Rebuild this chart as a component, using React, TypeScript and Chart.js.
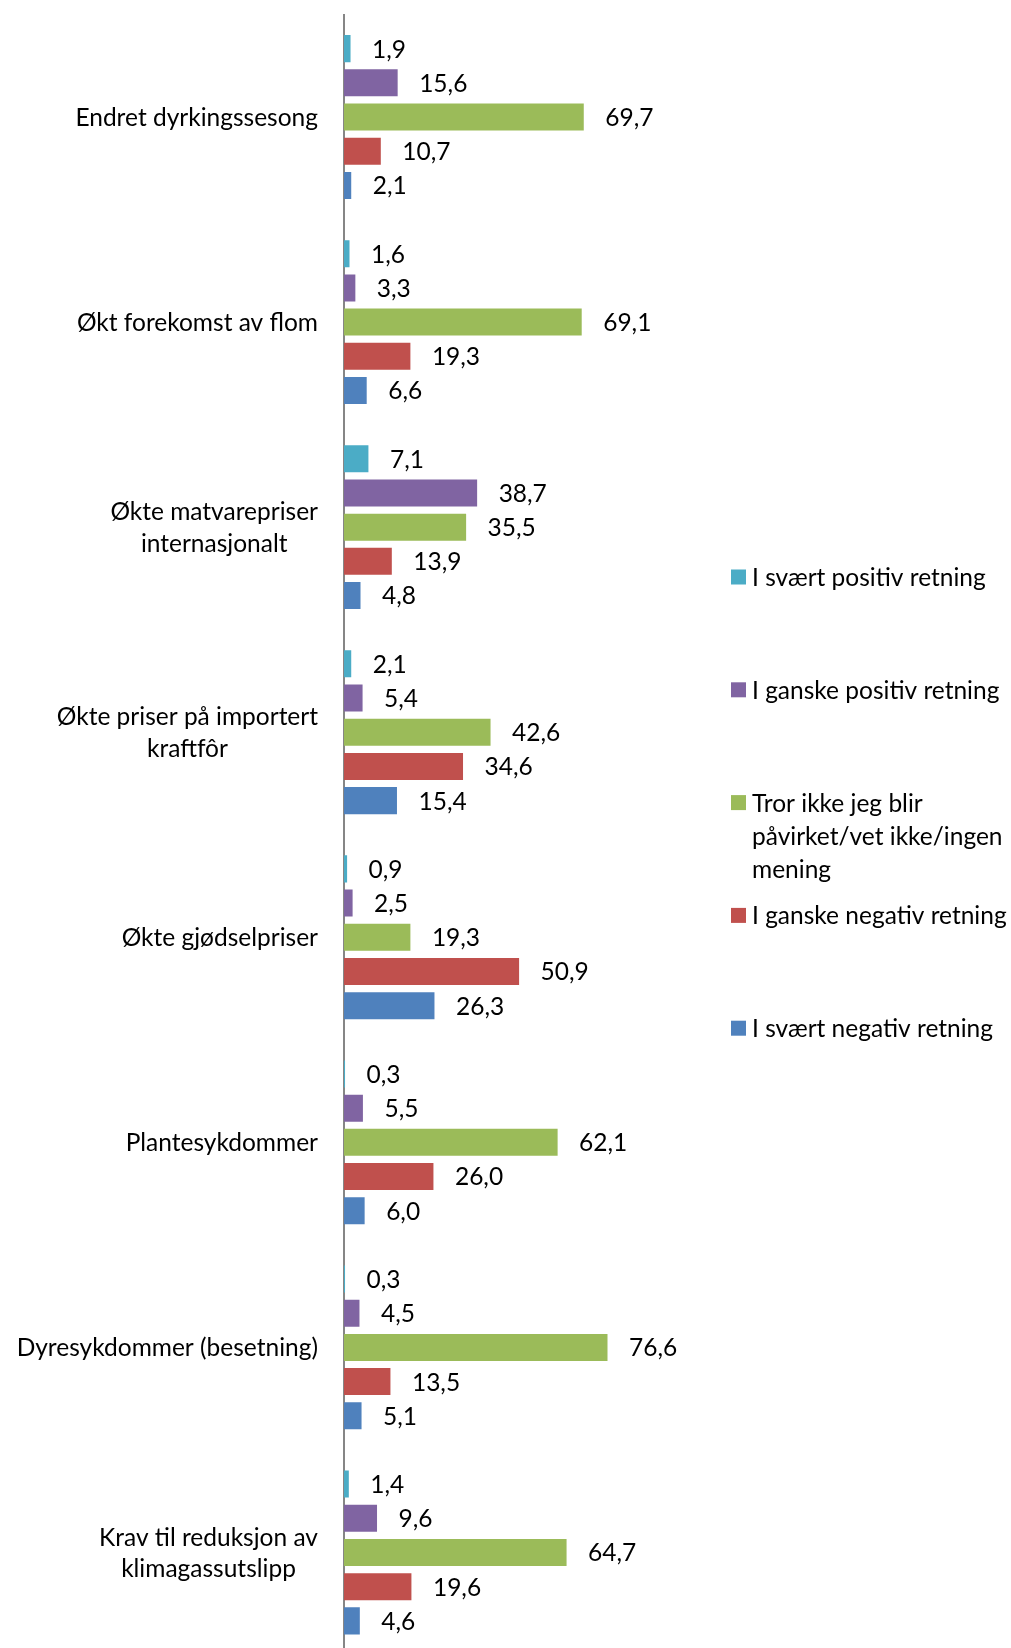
import React, { useEffect, useRef } from "react";
import { Chart, registerables } from "chart.js";

Chart.register(...registerables);

const categories: string[][] = [
  ["Endret dyrkingssesong"],
  ["Økt forekomst av flom"],
  ["Økte matvarepriser", "internasjonalt"],
  ["Økte priser på importert", "kraftfôr"],
  ["Økte gjødselpriser"],
  ["Plantesykdommer"],
  ["Dyresykdommer (besetning)"],
  ["Krav til reduksjon av", "klimagassutslipp"],
];

const seriesNames: string[][] = [
  ["I svært positiv retning"],
  ["I ganske positiv retning"],
  ["Tror ikke jeg blir", "påvirket/vet ikke/ingen", "mening"],
  ["I ganske negativ retning"],
  ["I svært negativ retning"],
];

const veryPositive = [1.9, 1.6, 7.1, 2.1, 0.9, 0.3, 0.3, 1.4];
const quitePositive = [15.6, 3.3, 38.7, 5.4, 2.5, 5.5, 4.5, 9.6];
const noEffect = [69.7, 69.1, 35.5, 42.6, 19.3, 62.1, 76.6, 64.7];
const quiteNegative = [10.7, 19.3, 13.9, 34.6, 50.9, 26.0, 13.5, 19.6];
const veryNegative = [2.1, 6.6, 4.8, 15.4, 26.3, 6.0, 5.1, 4.6];

const seriesValues = [veryPositive, quitePositive, noEffect, quiteNegative, veryNegative];
const seriesColors = ["#4BACC6", "#8064A2", "#9BBB59", "#C0504D", "#4F81BD"];

const FONT_FAMILY = "Lato, 'Open Sans', sans-serif";
const FONT_SIZE = 24.5;
const FONT = `${FONT_SIZE}px ${FONT_FAMILY}`;

const fmt = (v: number) => v.toFixed(1).replace(".", ",");

const CANVAS_W = 1011;
const CANVAS_H = 1655;
const VIEW_H = 1648;

const AXIS_WIDTH = 344;
const LABEL_RIGHT = 318;
const LABEL_LINE_H = 31.5;

const LEGEND_BOX_X = 731;
const LEGEND_TEXT_X = 752;
const LEGEND_FIRST_Y = 577;
const LEGEND_PITCH = 112.8;
const LEGEND_LINE_H = 33;
const LEGEND_BOX = 15;

const customDraw = {
  id: "customDraw",
  afterDatasetsDraw(chart: any) {
    const ctx = chart.ctx as CanvasRenderingContext2D;
    ctx.save();
    ctx.font = FONT;
    ctx.fillStyle = "#000000";
    ctx.textBaseline = "middle";
    // data labels
    chart.data.datasets.forEach((ds: any, di: number) => {
      const meta = chart.getDatasetMeta(di);
      meta.data.forEach((bar: any, i: number) => {
        ctx.textAlign = "left";
        ctx.fillText(fmt(ds.data[i]), bar.x + 21.5, bar.y + 1);
      });
    });
    // category labels
    const yScale = chart.scales.y;
    categories.forEach((lines, i) => {
      const cy = yScale.getPixelForValue(i);
      const widest = Math.max(...lines.map((l) => ctx.measureText(l).width));
      const cx = LABEL_RIGHT - widest / 2;
      const startY = cy - ((lines.length - 1) * LABEL_LINE_H) / 2;
      ctx.textAlign = "center";
      lines.forEach((l, k) => ctx.fillText(l, cx, startY + k * LABEL_LINE_H + 1));
    });
    // legend
    seriesNames.forEach((lines, si) => {
      const y0 = LEGEND_FIRST_Y + si * LEGEND_PITCH;
      ctx.fillStyle = seriesColors[si];
      ctx.fillRect(LEGEND_BOX_X, y0 - LEGEND_BOX / 2, LEGEND_BOX, LEGEND_BOX);
      ctx.fillStyle = "#000000";
      ctx.textAlign = "left";
      lines.forEach((l, k) => ctx.fillText(l, LEGEND_TEXT_X, y0 + k * LEGEND_LINE_H + 1));
    });
    ctx.restore();
  },
};

export default function App() {
  const ref = useRef<HTMLCanvasElement | null>(null);
  useEffect(() => {
    document.body.style.margin = "0";
    const canvas = ref.current;
    if (!canvas) return;
    const chart = new Chart(canvas, {
      type: "bar",
      data: {
        labels: categories.map((c) => c.join(" ")),
        datasets: seriesValues.map((vals, i) => ({
          label: seriesNames[i].join(" "),
          data: vals,
          backgroundColor: seriesColors[i],
          borderWidth: 0,
          categoryPercentage: 0.834,
          barPercentage: 0.79,
        })),
      },
      options: {
        indexAxis: "y",
        animation: false,
        responsive: false,
        maintainAspectRatio: false,
        layout: { padding: { top: 14.5, right: CANVAS_W - 688, bottom: 0, left: 0 } },
        plugins: {
          legend: { display: false },
          tooltip: { enabled: false },
        },
        scales: {
          x: {
            min: 0,
            max: 100,
            display: false,
          },
          y: {
            grid: { display: false, drawTicks: false },
            border: { display: true, color: "#868686", width: 2 },
            ticks: { display: false },
            afterFit: (scale: any) => {
              scale.width = AXIS_WIDTH;
            },
          },
        },
      },
      plugins: [customDraw],
    });
    return () => chart.destroy();
  }, []);
  return (
    <div
      style={{
        position: "absolute",
        left: 0,
        top: 0,
        width: CANVAS_W,
        height: VIEW_H,
        overflow: "hidden",
      }}
    >
      <canvas ref={ref} width={CANVAS_W} height={CANVAS_H} style={{ display: "block" }} />
    </div>
  );
}
